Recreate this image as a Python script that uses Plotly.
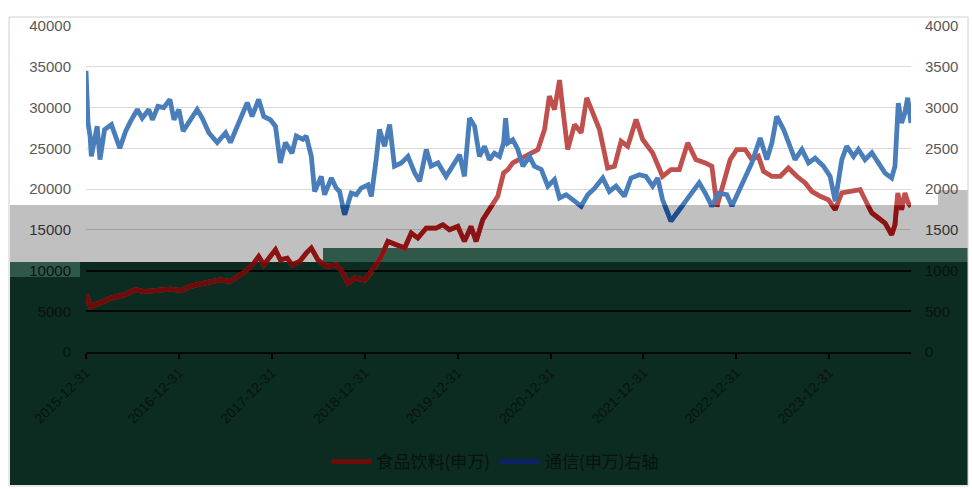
import plotly.graph_objects as go

# ---------------- data ----------------
series_names = ["食品饮料(申万)", "通信(申万)右轴"]

food_dates = [
    "2015-12-31", "2016-01-18", "2016-02-20", "2016-04-06", "2016-05-28", "2016-07-13",
    "2016-08-15", "2016-10-06", "2016-11-28", "2017-01-06", "2017-02-14", "2017-03-25",
    "2017-05-04", "2017-06-12", "2017-07-21", "2017-08-16", "2017-09-25", "2017-10-21",
    "2017-11-09", "2017-11-29", "2017-12-25", "2018-01-14", "2018-02-02", "2018-03-01",
    "2018-03-20", "2018-04-19", "2018-05-15", "2018-06-04", "2018-06-30", "2018-08-02",
    "2018-09-10", "2018-10-06", "2018-10-26", "2018-11-21", "2018-12-31", "2019-02-01",
    "2019-03-06", "2019-04-01", "2019-05-04", "2019-06-06", "2019-07-02", "2019-07-28",
    "2019-08-30", "2019-10-08", "2019-11-03", "2019-11-29", "2020-01-01", "2020-01-27",
    "2020-02-22", "2020-03-13", "2020-04-08", "2020-05-04", "2020-06-06", "2020-06-29",
    "2020-07-16", "2020-08-04", "2020-08-31", "2020-10-09", "2020-11-11", "2020-12-07",
    "2020-12-26", "2021-01-15", "2021-02-04", "2021-02-17", "2021-03-08", "2021-04-04",
    "2021-04-30", "2021-05-22", "2021-06-15", "2021-07-11", "2021-08-12", "2021-09-08",
    "2021-10-04", "2021-10-30", "2021-12-02", "2021-12-28", "2022-02-05", "2022-03-16",
    "2022-04-18", "2022-05-21", "2022-06-23", "2022-07-25", "2022-08-31", "2022-09-26",
    "2022-10-16", "2022-11-11", "2022-12-07", "2023-01-02", "2023-02-04", "2023-03-02",
    "2023-03-28", "2023-04-17", "2023-05-20", "2023-06-22", "2023-07-24", "2023-08-26",
    "2023-09-28", "2023-10-24", "2023-11-26", "2023-12-28", "2024-01-24", "2024-02-19",
    "2024-03-22", "2024-05-01", "2024-05-27", "2024-06-16", "2024-07-12", "2024-08-07",
    "2024-09-02", "2024-09-15", "2024-09-26", "2024-10-11", "2024-10-24", "2024-11-06",
    "2024-11-17",
]
food_vals = [
    7010, 5580, 5990, 6600, 7010, 7625,
    7420, 7625, 7710, 7540, 8035, 8365,
    8650, 8855, 8650, 9265, 10080, 10900,
    11720, 10700, 11720, 12540, 11310, 11520,
    10700, 11110, 12130, 12750, 11310, 10495,
    10700, 9675, 8445, 9060, 8855, 10085,
    11720, 13570, 13160, 12750, 14590, 13980,
    15210, 15210, 15620, 15000, 15410, 13570,
    15410, 13570, 16230, 17460, 19100, 21970,
    22380, 23200, 23610, 24220, 24840, 27300,
    31390, 29750, 33360, 29750, 24840, 27910,
    26890, 31190, 29140, 27300, 22580, 22790,
    25860, 25250, 28530, 26070, 24430, 21560,
    22380, 22380, 25660, 23610, 23200, 22790,
    17870, 20740, 23610, 24840, 24840, 23610,
    24020, 22170, 21560, 21560, 22580, 21560,
    20740, 19710, 19100, 18690, 17460, 19510,
    19710, 19920, 18280, 17050, 16440, 15820,
    14390, 15620, 19510, 17460, 19510, 18280,
    17870,
]

tele_dates = [
    "2015-12-31", "2016-01-08", "2016-01-16", "2016-01-21", "2016-02-13", "2016-02-24",
    "2016-03-13", "2016-04-09", "2016-05-12", "2016-06-04", "2016-06-23", "2016-07-20",
    "2016-08-08", "2016-09-03", "2016-09-17", "2016-10-09", "2016-11-01", "2016-11-25",
    "2016-12-11", "2016-12-30", "2017-01-16", "2017-02-14", "2017-03-12", "2017-04-01",
    "2017-04-27", "2017-05-30", "2017-07-02", "2017-07-21", "2017-08-16", "2017-09-25",
    "2017-10-14", "2017-11-09", "2017-11-29", "2017-12-25", "2018-01-14", "2018-02-02",
    "2018-02-22", "2018-03-20", "2018-04-06", "2018-05-02", "2018-05-15", "2018-06-04",
    "2018-06-17", "2018-07-13", "2018-07-26", "2018-08-22", "2018-09-10", "2018-09-23",
    "2018-10-13", "2018-11-08", "2018-11-28", "2018-12-17", "2019-01-13", "2019-01-26",
    "2019-02-14", "2019-02-27", "2019-03-19", "2019-04-08", "2019-04-27", "2019-05-24",
    "2019-06-19", "2019-07-15", "2019-08-04", "2019-08-30", "2019-09-18", "2019-10-15",
    "2019-11-16", "2019-12-12", "2020-01-08", "2020-01-27", "2020-02-16", "2020-03-07",
    "2020-03-26", "2020-04-15", "2020-05-04", "2020-05-24", "2020-06-13", "2020-06-29",
    "2020-07-07", "2020-07-16", "2020-08-04", "2020-08-24", "2020-09-13", "2020-10-09",
    "2020-10-28", "2020-11-24", "2020-12-20", "2021-01-15", "2021-02-04", "2021-03-02",
    "2021-03-28", "2021-04-30", "2021-05-26", "2021-06-22", "2021-07-24", "2021-08-19",
    "2021-09-14", "2021-10-17", "2021-11-12", "2021-12-15", "2022-01-10", "2022-02-05",
    "2022-02-25", "2022-03-16", "2022-04-18", "2022-05-21", "2022-06-29", "2022-08-07",
    "2022-08-31", "2022-09-26", "2022-10-22", "2022-11-24", "2022-12-14", "2023-01-09",
    "2023-02-04", "2023-03-02", "2023-04-04", "2023-04-30", "2023-05-20", "2023-06-08",
    "2023-07-05", "2023-07-31", "2023-08-19", "2023-09-15", "2023-10-11", "2023-11-06",
    "2023-12-09", "2024-01-04", "2024-01-24", "2024-02-19", "2024-03-09", "2024-04-05",
    "2024-04-24", "2024-05-20", "2024-06-16", "2024-07-12", "2024-08-07", "2024-09-02",
    "2024-09-15", "2024-09-28", "2024-10-11", "2024-10-24", "2024-11-04", "2024-11-17",
]
tele_vals = [
    3450, 2810, 2650, 2400, 2770, 2360,
    2730, 2790, 2500, 2710, 2830, 2975,
    2870, 2975, 2850, 3015, 3000, 3100,
    2850, 2975, 2710, 2850, 2975, 2870,
    2690, 2570, 2690, 2570, 2770, 3060,
    2890, 3100, 2890, 2850, 2770, 2320,
    2570, 2440, 2650, 2610, 2650, 2400,
    1970, 2155, 1930, 2135, 2010, 1970,
    1685, 1950, 1930, 2010, 2050, 1910,
    2360, 2730, 2525, 2790, 2280, 2320,
    2400, 2200, 2095, 2485, 2280, 2320,
    2155, 2280, 2420, 2155, 2870, 2770,
    2400, 2525, 2360, 2440, 2400, 2565,
    2870, 2565, 2605, 2485, 2280, 2400,
    2280, 2240, 2035, 2115, 1890, 1930,
    1870, 1790, 1930, 2010, 2135, 1970,
    2035, 1910, 2135, 2175, 2155, 2035,
    2135, 1870, 1605, 1745, 1910, 2075,
    1950, 1790, 1950, 1930, 1790, 1970,
    2115, 2320, 2625, 2360, 2565, 2890,
    2730, 2525, 2360, 2485, 2320, 2380,
    2280, 2155, 1850, 2360, 2525, 2400,
    2485, 2360, 2445, 2320, 2195, 2135,
    2280, 3055, 2810, 2935, 3120, 2810,
]

year_ticks = ["2015-12-31", "2016-12-31", "2017-12-31", "2018-12-31", "2019-12-31",
              "2020-12-31", "2021-12-31", "2022-12-31", "2023-12-31"]
left_ticks = [0, 5000, 10000, 15000, 20000, 25000, 30000, 35000, 40000]
right_ticks = [0, 500, 1000, 1500, 2000, 2500, 3000, 3500, 4000]

# ---------------- layout geometry ----------------
W, H = 972, 489
L, R, T, B = 86, 61, 26, 137
PW, PH = W - L - R, H - T - B
X_START, X_END = "2015-12-31", "2024-11-17"
LEFT_MAX, RIGHT_MAX = 40000, 4000
GRAY_TOP = 18000     # value level where the grey band begins
DARK_TOP = 11000     # value level where the dark band begins


def px(x):
    return (x - L) / PW


def py(y):
    return (H - B - y) / PH


RED, BLUE = "#c0504d", "#4a7ebb"
RED_GRAY, BLUE_GRAY = "#8c1313", "#1f4f8c"
RED_DARK, BLUE_DARK = "#6e0c0c", "#0c2466"
GRAY_BG, MID_GREEN, DARK_GREEN = "#c0c0c0", "#2f5849", "#0c2c21"
TXT_LIGHT, TXT_MID, TXT_DARK = "#595959", "#333333", "#08120e"


def tick_color(v, top):
    if v > GRAY_TOP * top / LEFT_MAX:
        return TXT_LIGHT
    if v > DARK_TOP * top / LEFT_MAX:
        return TXT_MID
    return TXT_DARK


FONT = "Liberation Sans, Arial, Noto Sans CJK SC, sans-serif"

fig = go.Figure()

LW = 4.8
# main lines
fig.add_trace(go.Scatter(x=food_dates, y=food_vals, mode="lines", line=dict(color=RED, width=LW),
                         xaxis="x", yaxis="y", showlegend=False, hoverinfo="skip"))
fig.add_trace(go.Scatter(x=tele_dates, y=tele_vals, mode="lines", line=dict(color=BLUE, width=LW),
                         xaxis="x", yaxis="y2", showlegend=False, hoverinfo="skip"))
# grey band (clipped subplot)
fig.add_trace(go.Scatter(x=food_dates, y=food_vals, mode="lines", line=dict(color=RED_GRAY, width=LW),
                         xaxis="x2", yaxis="y3", showlegend=False, hoverinfo="skip"))
fig.add_trace(go.Scatter(x=tele_dates, y=tele_vals, mode="lines", line=dict(color=BLUE_GRAY, width=LW),
                         xaxis="x2", yaxis="y4", showlegend=False, hoverinfo="skip"))
# dark band (clipped subplot)
fig.add_trace(go.Scatter(x=food_dates, y=food_vals, mode="lines", line=dict(color=RED_DARK, width=LW),
                         xaxis="x3", yaxis="y5", name=series_names[0], hoverinfo="skip"))
fig.add_trace(go.Scatter(x=tele_dates, y=tele_vals, mode="lines", line=dict(color=BLUE_DARK, width=LW),
                         xaxis="x3", yaxis="y6", name=series_names[1], hoverinfo="skip"))

shapes = [
    # grey band
    dict(type="rect", xref="paper", yref="paper", x0=px(10), x1=px(968), y0=py(262), y1=py(205),
         fillcolor=GRAY_BG, line_width=0, layer="below"),
    dict(type="rect", xref="paper", yref="paper", x0=px(938), x1=px(968), y0=py(205), y1=py(190),
         fillcolor=GRAY_BG, line_width=0, layer="below"),
    # medium green strips
    dict(type="rect", xref="paper", yref="paper", x0=px(323), x1=px(968), y0=py(262), y1=py(248),
         fillcolor=MID_GREEN, line_width=0, layer="below"),
    dict(type="rect", xref="paper", yref="paper", x0=px(10), x1=px(80), y0=py(277), y1=py(262),
         fillcolor=MID_GREEN, line_width=0, layer="below"),
    # dark green area
    dict(type="rect", xref="paper", yref="paper", x0=px(80), x1=px(968), y0=py(485), y1=py(262),
         fillcolor=DARK_GREEN, line_width=0, layer="below"),
    dict(type="rect", xref="paper", yref="paper", x0=px(10), x1=px(80), y0=py(485), y1=py(277),
         fillcolor=DARK_GREEN, line_width=0, layer="below"),
    # outer chart border
    dict(type="rect", xref="paper", yref="paper", x0=px(9), x1=px(968), y0=py(486), y1=py(17),
         fillcolor="rgba(0,0,0,0)", line=dict(color="#d0d0d0", width=1), layer="below"),
]

tickfont = dict(family=FONT, size=15)
left_text = [f'<span style="color:{tick_color(v, LEFT_MAX)}">{v}</span>' for v in left_ticks]
right_text = [f'<span style="color:{tick_color(v, RIGHT_MAX)}">{v}</span>' for v in right_ticks]

gray_dom = GRAY_TOP / LEFT_MAX
dark_dom = DARK_TOP / LEFT_MAX

fig.update_layout(
    width=W, height=H,
    margin=dict(l=L, r=R, t=T, b=B, autoexpand=False),
    paper_bgcolor="white", plot_bgcolor="rgba(0,0,0,0)",
    shapes=shapes,
    font=dict(family=FONT, color=TXT_DARK),
    xaxis=dict(type="date", range=[X_START, X_END], domain=[0, 1],
               tickvals=year_ticks, ticktext=year_ticks, tickangle=-45,
               tickfont=dict(family=FONT, size=14, color=TXT_DARK),
               ticks="outside", ticklen=5, tickcolor="#000000", tickwidth=1.5,
               showline=True, linecolor="#050a08", linewidth=2, showgrid=False, zeroline=False),
    yaxis=dict(range=[0, LEFT_MAX], domain=[0, 1], tickvals=left_ticks, ticktext=left_text,
               tickfont=tickfont, showgrid=True, gridcolor="#d9d9d9", gridwidth=1.3,
               zeroline=False, showline=False, ticks="", ticklabelstandoff=14),
    yaxis2=dict(range=[0, RIGHT_MAX], overlaying="y", side="right", tickvals=right_ticks,
                ticktext=right_text, tickfont=tickfont, showgrid=False, zeroline=False,
                showline=False, ticks="", ticklabelstandoff=13),
    xaxis2=dict(type="date", range=[X_START, X_END], domain=[0, 1], anchor="y3",
                visible=False),
    yaxis3=dict(range=[0, GRAY_TOP], domain=[0, gray_dom], anchor="x2", tickvals=left_ticks,
                showticklabels=False, showgrid=True, gridcolor="#a3a3a3", gridwidth=1.3,
                zeroline=False, showline=False, ticks=""),
    yaxis4=dict(range=[0, GRAY_TOP * RIGHT_MAX / LEFT_MAX], overlaying="y3", side="right",
                anchor="x2", visible=False),
    xaxis3=dict(type="date", range=[X_START, X_END], domain=[0, 1], anchor="y5",
                visible=False),
    yaxis5=dict(range=[0, DARK_TOP], domain=[0, dark_dom], anchor="x3", tickvals=left_ticks,
                showticklabels=False, showgrid=True, gridcolor="#020604", gridwidth=2,
                zeroline=False, showline=False, ticks=""),
    yaxis6=dict(range=[0, DARK_TOP * RIGHT_MAX / LEFT_MAX], overlaying="y5", side="right",
                anchor="x3", visible=False),
    legend=dict(orientation="h", x=px(495), xanchor="center", y=py(462), yanchor="middle",
                bgcolor="rgba(0,0,0,0)", itemwidth=40,
                font=dict(family="Noto Sans CJK SC, sans-serif", size=17, color=TXT_DARK)),
    showlegend=True,
)

fig.write_html("out.html", post_script="document.body.style.margin='0';",
               config={"displayModeBar": False})
